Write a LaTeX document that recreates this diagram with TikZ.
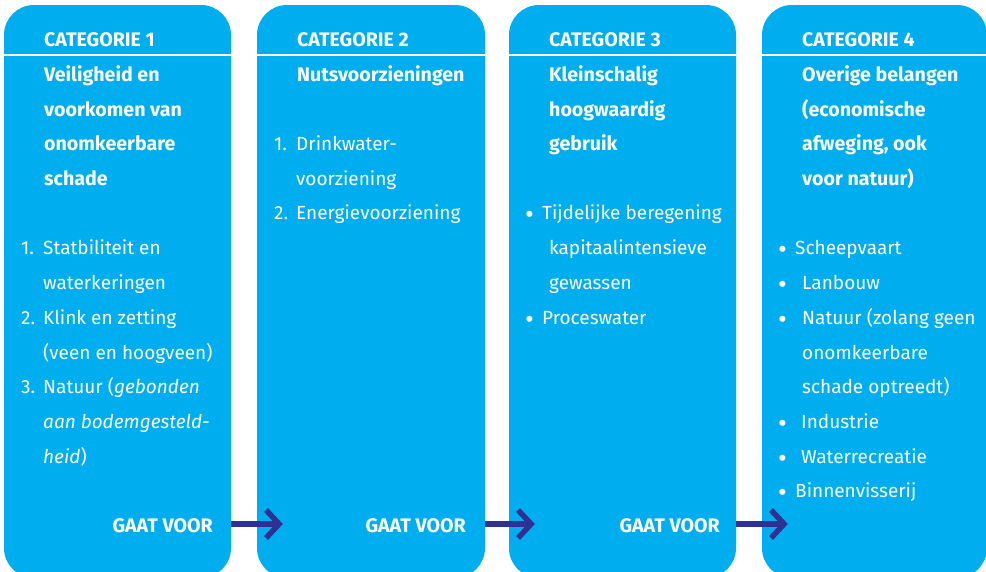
\documentclass[tikz,border=0pt]{standalone}
\usepackage{fontspec}
\setmainfont{Fira Sans}
\usetikzlibrary{arrows.meta,calc}
\definecolor{boxcyan}{HTML}{00AEEF}
\definecolor{arrowblue}{HTML}{2E3192}
\newcommand\myfs{\fontsize{19}{24}\selectfont}
\newcommand\myhfs{\fontsize{19.6}{24}\selectfont}
\tikzset{
  catbox/.style={fill=boxcyan, draw=none, rounded corners=30pt, minimum width=#1, minimum height=573pt, inner sep=0pt},
  hdr/.style={anchor=base west, inner sep=0pt, text=white, font=\myhfs\bfseries},
  txt/.style={anchor=base west, inner sep=0pt, text=white, font=\myfs},
  dot/.style={anchor=base west, inner sep=0pt, text=white, font=\fontsize{27}{27}\selectfont, yshift=-4pt},
  gaat/.style={anchor=base east, inner sep=0pt, text=white, font=\myhfs\bfseries},
  sepline/.style={draw=white, line width=2pt},
  goarrow/.style={draw=arrowblue, line width=5.5pt, -{Straight Barb[length=13pt,width=28pt]}}
}
\begin{document}
\begin{tikzpicture}[x=1pt,y=-1pt]
\useasboundingbox (0,0) rectangle (986,571);
% boxes
\node[catbox=227pt] (b1) at (117.5,291.5) {};
\node[catbox=228pt] (b2) at (371,291.5) {};
\node[catbox=227pt] (b3) at (622.5,291.5) {};
\node[catbox=225pt] (b4) at (874.5,291.5) {};
% separator lines
\foreach \b in {b1,b2,b3,b4}{
  \draw[sepline] (\b.west |- 0,55) -- (\b.east |- 0,55);
}
% headers
\node[hdr] (c1) at (44,46) {CATEGORIE 1};
\node[hdr] (c2) at (297,46) {CATEGORIE 2};
\node[hdr] (c3) at (549,46) {CATEGORIE 3};
\node[hdr] (c4) at (802,46) {CATEGORIE 4};
% box 1
\node[hdr] (t11) at (44,81) {Veiligheid en};
\node[hdr] (t12) at (44,116) {voorkomen van};
\node[hdr] (t13) at (44,150) {onomkeerbare};
\node[hdr] (t14) at (44,185) {schade};
\node[txt] (n11) at (21,254) {1.};
\node[txt] (l11) at (43,254) {Statbiliteit en};
\node[txt] (l12) at (43,289) {waterkeringen};
\node[txt] (n12) at (21,324) {2.};
\node[txt] (l13) at (43,324) {Klink en zetting};
\node[txt] (l14) at (43,359) {(veen en hoogveen)};
\node[txt] (n13) at (21,393) {3.};
\node[txt] (l15) at (43,393) {Natuur (\textit{gebonden}};
\node[txt] (l16) at (43,428) {\textit{aan bodemgesteld-}};
\node[txt] (l17) at (43,463) {\textit{heid})};
% box 2
\node[hdr] (t21) at (297,81) {Nutsvoorzieningen};
\node[txt] (n21) at (274,150) {1.};
\node[txt] (l21) at (296,150) {Drinkwater-};
\node[txt] (l22) at (296,185) {voorziening};
\node[txt] (n22) at (274,219) {2.};
\node[txt] (l23) at (296,219) {Energievoorziening};
% box 3
\node[hdr] (t31) at (549,81) {Kleinschalig};
\node[hdr] (t32) at (549,116) {hoogwaardig};
\node[hdr] (t33) at (549,150) {gebruik};
\node[dot] (p31) at (525,219) {•};
\node[txt] (l31) at (542,219) {Tijdelijke beregening};
\node[txt] (l32) at (549,254) {kapitaalintensieve};
\node[txt] (l33) at (549,289) {gewassen};
\node[dot] (p32) at (525,324) {•};
\node[txt] (l34) at (542,324) {Proceswater};
% box 4
\node[hdr] (t41) at (802,81) {Overige belangen};
\node[hdr] (t42) at (802,116) {(economische};
\node[hdr] (t43) at (802,150) {afweging, ook};
\node[hdr] (t44) at (802,185) {voor natuur)};
\node[dot] (p41) at (778,254) {•};
\node[txt] (l41) at (795,254) {Scheepvaart};
\node[dot] (p42) at (778,289) {•};
\node[txt] (l42) at (802,289) {Lanbouw};
\node[dot] (p43) at (778,324) {•};
\node[txt] (l43) at (802,324) {Natuur (zolang geen};
\node[txt] (l44) at (802,359) {onomkeerbare};
\node[txt] (l45) at (802,393) {schade optreedt)};
\node[dot] (p44) at (778,428) {•};
\node[txt] (l46) at (801,428) {Industrie};
\node[dot] (p45) at (778,463) {•};
\node[txt] (l47) at (801,463) {Waterrecreatie};
\node[dot] (p46) at (778,497) {•};
\node[txt] (l48) at (795,497) {Binnenvisserij};
% gaat voor
\node[gaat] (g1) at (213,532) {GAAT VOOR};
\node[gaat] (g2) at (466,532) {GAAT VOOR};
\node[gaat] (g3) at (720,532) {GAAT VOOR};
% arrows
\coordinate (h1) at ($(b2.west |- 0,524)+(26,0)$);
\coordinate (h2) at ($(b3.west |- 0,524)+(26,0)$);
\coordinate (h3) at ($(b4.west |- 0,524)+(26,0)$);
\draw[goarrow] (b1.east |- h1) -- (h1);
\draw[goarrow] (b2.east |- h2) -- (h2);
\draw[goarrow] (b3.east |- h3) -- (h3);
\end{tikzpicture}
\end{document}
